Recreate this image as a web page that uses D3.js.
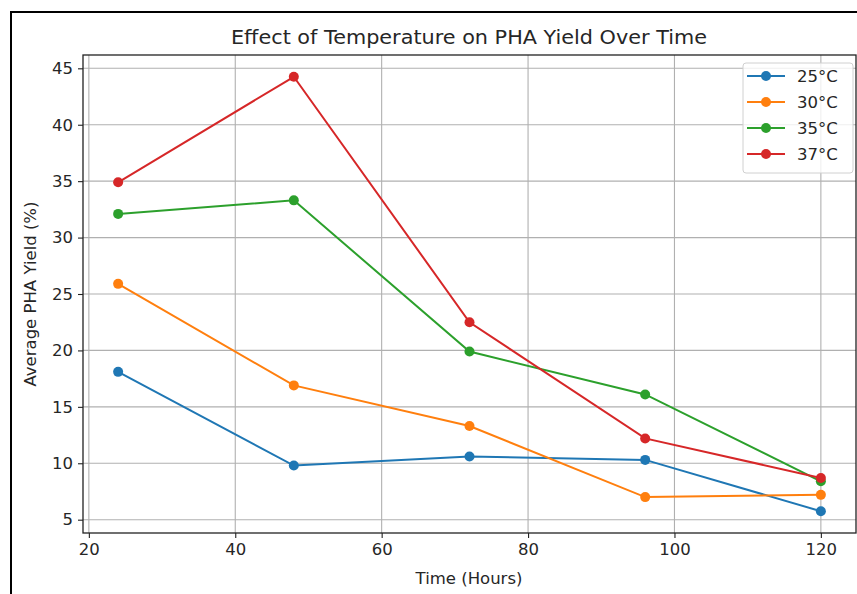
<!DOCTYPE html>
<html>
<head>
<meta charset="utf-8">
<script src="https://cdn.jsdelivr.net/npm/d3@7"></script>
<style>
html,body{margin:0;padding:0;background:#fff;}
svg{display:block;}
text{font-family:"DejaVu Sans",sans-serif;fill:#262626;}
</style>
</head>
<body>
<svg id="chart" width="857" height="594"></svg>
<script>
const times = [24, 48, 72, 96, 120];
const seriesNames = ["25°C", "30°C", "35°C", "37°C"];
const yield25 = [18.1, 9.8, 10.6, 10.3, 5.75];
const yield30 = [25.9, 16.9, 13.3, 7.0, 7.2];
const yield35 = [32.1, 33.3, 19.9, 16.1, 8.4];
const yield37 = [34.9, 44.25, 22.5, 12.2, 8.7];
const colors = ["#1f77b4", "#ff7f0e", "#2ca02c", "#d62728"];
const xTicks = [20, 40, 60, 80, 100, 120];
const yTicks = [5, 10, 15, 20, 25, 30, 35, 40, 45];

(function () {
const series = seriesNames.map((n, i) => ({
  name: n, color: colors[i],
  values: [yield25, yield30, yield35, yield37][i].map((v, j) => ({t: times[j], v}))
}));

const svg = d3.select("#chart");
const pL = 83, pR = 856, pT = 55, pB = 533;
const fs = 16.5;

// outer frame
svg.append("line").attr("x1", 11).attr("x2", 11).attr("y1", 11).attr("y2", 594).attr("stroke", "#000").attr("stroke-width", 2);
svg.append("line").attr("x1", 10).attr("x2", 857).attr("y1", 12).attr("y2", 12).attr("stroke", "#000").attr("stroke-width", 2);

const x = d3.scaleLinear().domain([19.2, 124.8]).range([pL, pR]);
const y = d3.scaleLinear().domain([3.82, 46.18]).range([pB, pT]);

// grid
const g = svg.append("g");
g.selectAll(".gx").data(xTicks).join("line")
  .attr("x1", d => x(d)).attr("x2", d => x(d)).attr("y1", pT).attr("y2", pB)
  .attr("stroke", "#b0b0b0").attr("stroke-width", 1.1);
g.selectAll(".gy").data(yTicks).join("line")
  .attr("x1", pL).attr("x2", pR).attr("y1", d => y(d)).attr("y2", d => y(d))
  .attr("stroke", "#b0b0b0").attr("stroke-width", 1.1);

// axes
const xAxis = svg.append("g").attr("transform", `translate(0,${pB})`)
  .call(d3.axisBottom(x).tickValues(xTicks).tickSize(5).tickPadding(5).tickSizeOuter(0));
const yAxis = svg.append("g").attr("transform", `translate(${pL},0)`)
  .call(d3.axisLeft(y).tickValues(yTicks).tickSize(5).tickPadding(5).tickSizeOuter(0));
[xAxis, yAxis].forEach(a => {
  a.select(".domain").remove();
  a.selectAll("line").attr("stroke", "#222").attr("stroke-width", 1.1);
  a.selectAll("text").attr("font-size", fs).attr("font-family", "DejaVu Sans").attr("fill", "#262626");
});

// spines
svg.append("rect").attr("x", pL).attr("y", pT).attr("width", pR - pL).attr("height", pB - pT)
  .attr("fill", "none").attr("stroke", "#222").attr("stroke-width", 1.3);

// lines
const line = d3.line().x(d => x(d.t)).y(d => y(d.v));
const sg = svg.append("g");
series.forEach(s => {
  sg.append("path").datum(s.values).attr("d", line)
    .attr("fill", "none").attr("stroke", s.color).attr("stroke-width", 2);
  sg.selectAll(null).data(s.values).join("circle")
    .attr("cx", d => x(d.t)).attr("cy", d => y(d.v)).attr("r", 5).attr("fill", s.color);
});

// titles
svg.append("text").attr("x", 469).attr("y", 44).attr("text-anchor", "middle")
  .attr("font-size", 20).attr("textLength", 476).attr("lengthAdjust", "spacingAndGlyphs")
  .text("Effect of Temperature on PHA Yield Over Time");
svg.append("text").attr("x", 469).attr("y", 584).attr("text-anchor", "middle")
  .attr("font-size", fs).text("Time (Hours)");
svg.append("text").attr("transform", `translate(36,${(pT + pB) / 2}) rotate(-90)`).attr("text-anchor", "middle")
  .attr("font-size", fs).text("Average PHA Yield (%)");

// legend
const lg = svg.append("g").attr("transform", "translate(743,63)");
lg.append("rect").attr("x", 0).attr("y", 0).attr("width", 110).attr("height", 110).attr("rx", 3)
  .attr("fill", "#fff").attr("fill-opacity", 0.8).attr("stroke", "#d0d0d0").attr("stroke-width", 1);
series.forEach((s, i) => {
  const yy = 13 + i * 26;
  lg.append("line").attr("x1", 4).attr("x2", 42).attr("y1", yy).attr("y2", yy).attr("stroke", s.color).attr("stroke-width", 2);
  lg.append("circle").attr("cx", 23).attr("cy", yy).attr("r", 5).attr("fill", s.color);
  lg.append("text").attr("x", 54).attr("y", yy + 6).attr("font-size", fs).text(s.name);
});
})();
</script>
</body>
</html>
